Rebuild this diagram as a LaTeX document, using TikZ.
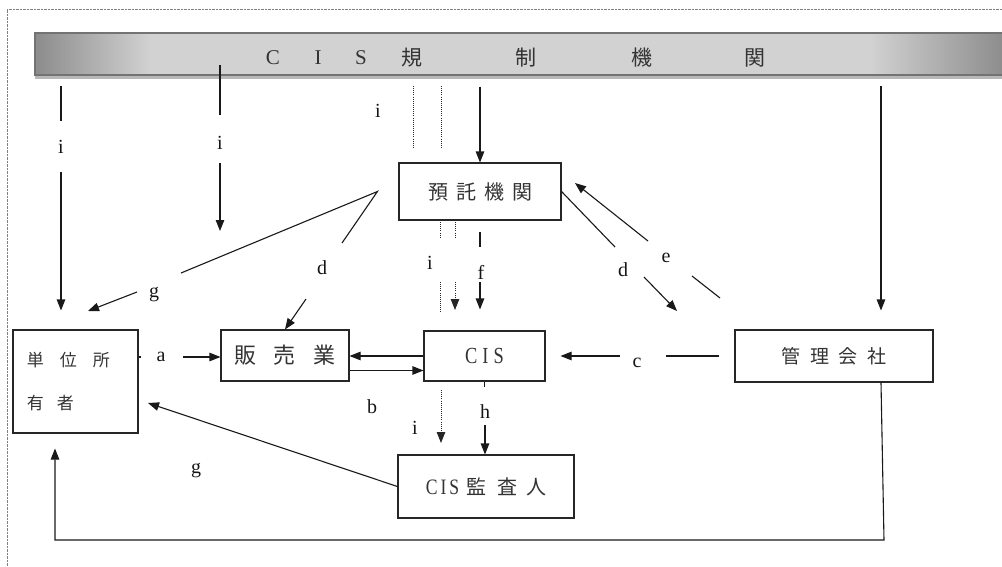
\documentclass[tikz,border=0pt]{standalone}
\usepackage{fontspec}
\usepackage{graphicx}
\setmainfont{Liberation Serif}
\newfontfamily\jp{Noto Sans CJK JP}
\usetikzlibrary{arrows.meta}
\definecolor{bandDark}{HTML}{8C8C8C}
\definecolor{bandLight}{HTML}{D2D2D2}
\definecolor{inkJ}{HTML}{333333}
\definecolor{inkL}{HTML}{151515}
% light band in the middle, darker towards both ends
\pgfdeclarehorizontalshading{bandshade}{100bp}{color(0bp)=(bandDark); color(25bp)=(bandDark); color(31bp)=(bandLight); color(68bp)=(bandLight); color(75bp)=(bandDark); color(100bp)=(bandDark)}
\newcommand{\narrowcis}[1]{\scalebox{0.8}[1]{#1}}
\begin{document}
\begin{tikzpicture}[x=1pt,y=-1pt,
  ln/.style={draw=black!90,line width=1.1pt},
  arr/.style={ln,-{Triangle[length=11pt,width=8.5pt]}},
  dotl/.style={draw=black!85,line width=0.9pt,dash pattern=on 0.9pt off 1.2pt},
  darr/.style={dotl,-{Triangle[length=11pt,width=8.5pt]}},
  box/.style={draw=black!85,line width=1.1pt,inner sep=0pt,text=inkJ},
  lab/.style={inner sep=0pt,text=inkL,font=\fontsize{20}{20}\selectfont},
  ttl/.style={inner sep=0pt,text=inkJ},
]
\useasboundingbox (0,0) rectangle (1002,566);

% dotted frame
\draw[black!50,line width=0.6pt,dash pattern=on 0.7pt off 0.7pt] (7,566) -- (7,9) -- (1002,9);

% regulator band
\node[draw=black!55,line width=1.2pt,shading=bandshade,minimum width=970pt,minimum height=42pt,inner sep=0pt] (reg) at (520,54) {};
\fill[black!28] ([xshift=1pt]reg.south west) rectangle ([yshift=-3.5pt]reg.south east);
\node[ttl,font=\fontsize{21}{21}\selectfont] (tc) at (273,58) {C};
\node[ttl,font=\fontsize{21}{21}\selectfont] (ti) at (318,58) {I};
\node[ttl,font=\fontsize{21}{21}\selectfont] (ts) at (361,58) {S};
\node[ttl,font=\jp\fontsize{21}{21}\selectfont] (tk1) at (412,58) {規};
\node[ttl,font=\jp\fontsize{21}{21}\selectfont] (tk2) at (526,58) {制};
\node[ttl,font=\jp\fontsize{21}{21}\selectfont] (tk3) at (642,58) {機};
\node[ttl,font=\jp\fontsize{21}{21}\selectfont] (tk4) at (755,58) {関};

% boxes
\node[box,minimum width=125pt,minimum height=103pt,align=left,text width=97pt,
      font=\jp\fontsize{17}{43}\selectfont] (owner) at (75.5,381.5)
      {単\hspace{16pt}位\hspace{16pt}所\\有\hspace{13pt}者};
\node[box,minimum width=128pt,minimum height=51pt,font=\jp\fontsize{22}{22}\selectfont]
      (sales) at (285,355.5) {販\hspace{18pt}売\hspace{18pt}業\hspace{15pt}};
\node[box,minimum width=121pt,minimum height=50pt,font=\fontsize{23}{23}\selectfont]
      (cis) at (484.5,356) {\narrowcis{C}\hspace{5pt}\narrowcis{I}\hspace{5pt}\narrowcis{S}};
\node[box,minimum width=162pt,minimum height=57pt,font=\jp\fontsize{20}{20}\selectfont]
      (depo) at (480,191.5) {預\hspace{8pt}託\hspace{8pt}機\hspace{8pt}関};
\node[box,minimum width=198pt,minimum height=52pt,font=\jp\fontsize{19}{19}\selectfont]
      (mgmt) at (834,356) {管\hspace{10pt}理\hspace{10pt}会\hspace{10pt}社};
\node[box,minimum width=176pt,minimum height=63pt] (audit) at (486,486.5)
      {\fontsize{22}{22}\selectfont\narrowcis{C}\hspace{3pt}\narrowcis{I}\hspace{3pt}\narrowcis{S}\hspace{7pt}\jp\fontsize{20}{20}\selectfont 監\hspace{11pt}査\hspace{9pt}人};

% labels
\node[lab] (li1) at (61,147) {i};
\node[lab] (li2) at (220,143) {i};
\node[lab] (li3) at (378,111) {i};
\node[lab] (li4) at (430,263) {i};
\node[lab] (lf)  at (481,272) {f};
\node[lab] (ld1) at (322,268) {d};
\node[lab] (lg1) at (154,295) {g};
\node[lab] (la)  at (161,357) {a};
\node[lab] (lb)  at (372,407) {b};
\node[lab] (li5) at (415,428) {i};
\node[lab] (lh)  at (485,412) {h};
\node[lab] (lc)  at (637,363) {c};
\node[lab] (ld2) at (623,270) {d};
\node[lab] (le)  at (666,258) {e};
\node[lab] (lg2) at (196,471) {g};

% i : regulator -> unit owners
\coordinate (a1) at (61,86); \coordinate (a2) at (61,121); \coordinate (a3) at (61,172);
\draw[ln] (a1) -- (a2);
\draw[arr,shorten >=19pt] (a3) -- (owner.north -| a3);

% i : regulator -> (second line)
\coordinate (b1) at (220,65); \coordinate (b2) at (220,115);
\coordinate (b3) at (220,163); \coordinate (b4) at (220,231);
\draw[ln] (b1) -- (b2);
\draw[arr] (b3) -- (b4);

% dotted i lines under the band
\coordinate (c1) at (413,86); \coordinate (c2) at (413,148);
\coordinate (c3) at (441,86); \coordinate (c4) at (441,148);
\draw[dotl] (c1) -- (c2);
\draw[dotl] (c3) -- (c4);

% regulator -> depositary
\draw[arr,shorten <=11pt] (reg.south -| depo.north) -- (depo.north);

% depositary -> CIS (i dotted, f solid)
\coordinate (p1) at (440,222); \coordinate (p2) at (440,238);
\coordinate (p3) at (440,282); \coordinate (p4) at (440,312);
\draw[dotl] (p1) -- (p2);
\draw[dotl] (p3) -- (p4);
\coordinate (q1) at (455,222); \coordinate (q2) at (455,237);
\coordinate (q3) at (455,282); \coordinate (q4) at (455,310);
\draw[dotl] (q1) -- (q2);
\draw[darr] (q3) -- (q4);
\coordinate (f1) at (480,232); \coordinate (f2) at (480,247); \coordinate (f3) at (480,282);
\draw[ln] (f1) -- (f2);
\draw[arr,shorten >=21pt] (f3) -- (cis.north -| f3);

% depositary fan: g to unit owners, d to seller
\coordinate (fan) at ([xshift=-21pt]depo.west);
\coordinate (g1a) at (181,273); \coordinate (g1b) at (137,292); \coordinate (g1c) at (88,311);
\coordinate (d1a) at (342,243); \coordinate (d1b) at (306,299);
\draw[ln] (d1a) -- (fan) -- (g1a);
\draw[arr] (g1b) -- (g1c);
\draw[arr] (d1b) -- (sales.north);

% d : depositary -> management company
\coordinate (d2a) at (615,247); \coordinate (d2b) at (644,277); \coordinate (d2c) at (677,311);
\draw[ln] (depo.east) -- (d2a);
\draw[arr] (d2b) -- (d2c);

% e : management company -> depositary
\coordinate (e1) at (720,298); \coordinate (e2) at (692,276);
\coordinate (e3) at (648,241); \coordinate (e4) at (575,183);
\draw[ln] (e1) -- (e2);
\draw[arr] (e3) -- (e4);

% regulator -> management company
\coordinate (r1) at (881,86);
\draw[arr,shorten >=19pt] (r1) -- (mgmt.north -| r1);

% c : management company -> CIS
\coordinate (cc2) at (666,356); \coordinate (cc3) at (620,356);
\draw[ln,shorten <=15pt] (mgmt.west) -- (cc2);
\draw[arr,shorten >=15pt] (cc3) -- (cis.east);

% a : unit owners -> seller
\coordinate (aa1) at (141,357); \coordinate (aa2) at (183,357);
\draw[ln] (owner.east |- aa1) -- (aa1);
\draw[arr] (aa2) -- (sales.west |- aa2);

% b : seller <-> CIS
\draw[arr] (cis.west) -- (cis.west -| sales.east);
\draw[arr] ([yshift=-15pt]sales.east) -- ([yshift=-15pt]sales.east -| cis.west);

% h : CIS -> auditor
\coordinate (h1) at (484.5,387); \coordinate (h2) at (485,425);
\draw[ln] (cis.south) -- (h1);
\draw[arr] (h2) -- (audit.north -| h2);

% i : dotted to auditor
\coordinate (k1) at (441,390); \coordinate (k2) at (441,443);
\draw[darr] (k1) -- (k2);

% g : auditor -> unit owners
\coordinate (gt) at (148,403);
\draw[arr] (audit.west) -- (gt);

% management company -> unit owners (bottom loop)
\coordinate (mf) at ([xshift=47pt]mgmt.south);
\coordinate (lr) at (884,540); \coordinate (ll) at (55,540);
\draw[arr,shorten >=15pt] (mf) -- (lr) -- (ll) -- (owner.south -| ll);
\end{tikzpicture}
\end{document}
